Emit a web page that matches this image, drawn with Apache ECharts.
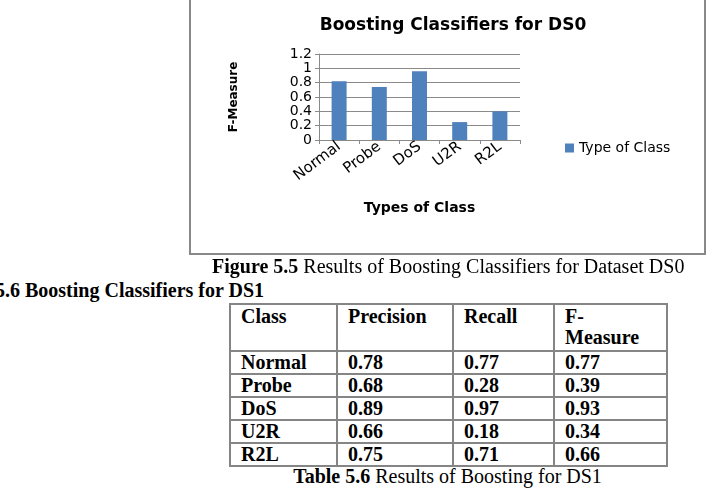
<!DOCTYPE html>
<html>
<head>
<meta charset="utf-8">
<script src="https://cdn.jsdelivr.net/npm/echarts@6/dist/echarts.min.js"></script>
<style>
    body {
        margin: 0;
        width: 715px;
        height: 488px;
        overflow: hidden;
        position: relative;
        background: #fff;
        font-family: "Liberation Serif", "Times New Roman", serif;
        color: #000;
    }
    #frame {
        position: absolute;
        left: 189px;
        top: -3px;
        width: 513px;
        height: 254px;
        border: 2px solid #888;
    }
    #myChart {
        position: absolute;
        left: 0;
        top: 0;
        width: 715px;
        height: 256px;
    }
    .cap {
        position: absolute;
        font-size: 20px;
        line-height: 23px;
        white-space: nowrap;
    }
    #tbl {
        position: absolute;
        left: 229px;
        top: 303px;
        border-collapse: collapse;
        table-layout: fixed;
        font-size: 20px;
        font-weight: bold;
    }
    #tbl td {
        border: 2px solid #858585;
        padding: 0 0 0 10px;
        line-height: 21px;
        height: 21px;
        vertical-align: middle;
        white-space: nowrap;
    }
    #tbl tr.head td {
        height: 44px;
        vertical-align: top;
        padding-top: 1px;
        white-space: normal;
    }
</style>
</head>
<body>
<div id="frame"></div>
<div id="myChart"></div>
<div class="cap" style="left:212px;top:255px;"><b>Figure 5.5</b> Results of Boosting Classifiers for Dataset DS0</div>
<div class="cap" style="left:-5px;top:279px;"><b>5.6 Boosting Classifiers for DS1</b></div>
<table id="tbl">
    <colgroup>
        <col style="width:107px">
        <col style="width:116px">
        <col style="width:101px">
        <col style="width:113px">
    </colgroup>
    <tbody id="tblBody"></tbody>
</table>
<div class="cap" style="left:229px;width:437px;top:465px;text-align:center;"><b>Table 5.6</b> Results of Boosting for DS1</div>

<script>
    // chart data (Figure 5.5)
    var categories = ['Normal', 'Probe', 'DoS', 'U2R', 'R2L'];
    var fMeasure = [0.82, 0.74, 0.96, 0.25, 0.40];
    var seriesName = 'Type of Class';

    // table data (Table 5.6)
    var tableHeader = ['Class', 'Precision', 'Recall', 'F-<br>Measure'];
    var tableClasses = ['Normal', 'Probe', 'DoS', 'U2R', 'R2L'];
    var precision = ['0.78', '0.68', '0.89', '0.66', '0.75'];
    var recall = ['0.77', '0.28', '0.97', '0.18', '0.71'];
    var fMeasureDs1 = ['0.77', '0.39', '0.93', '0.34', '0.66'];

    var html = '<tr class="head">';
    for (var h = 0; h < tableHeader.length; h++) {
        html += '<td>' + tableHeader[h] + '</td>';
    }
    html += '</tr>';
    for (var i = 0; i < tableClasses.length; i++) {
        html += '<tr><td>' + tableClasses[i] + '</td><td>' + precision[i] + '</td><td>' +
            recall[i] + '</td><td>' + fMeasureDs1[i] + '</td></tr>';
    }
    document.getElementById('tblBody').innerHTML = html;

    var gridColor = '#8a8a8a';
    var sans = '"DejaVu Sans", Verdana, sans-serif';

    var myChart = echarts.init(document.getElementById('myChart'));
    myChart.setOption({
        animation: false,
        title: {
            text: 'Boosting Classifiers for DS0',
            left: 448,
            top: 12,
            textAlign: 'center',
            textStyle: {
                fontFamily: sans,
                fontSize: 17,
                fontWeight: 'bold',
                color: '#000'
            }
        },
        legend: {
            left: 560,
            top: 136,
            itemWidth: 9,
            itemHeight: 9,
            icon: 'rect',
            data: [seriesName],
            textStyle: {
                fontFamily: sans,
                fontSize: 14,
                color: '#000'
            }
        },
        grid: {
            left: 319,
            top: 54,
            width: 201,
            height: 86
        },
        xAxis: {
            type: 'category',
            data: categories,
            name: 'Types of Class',
            nameLocation: 'middle',
            nameGap: 61,
            nameTextStyle: {
                fontFamily: sans,
                fontSize: 14,
                fontWeight: 'bold',
                color: '#000'
            },
            axisLine: {lineStyle: {color: gridColor}},
            axisTick: {show: true, length: 4, lineStyle: {color: gridColor}},
            axisLabel: {
                interval: 0,
                rotate: 37,
                margin: 5,
                fontFamily: sans,
                fontSize: 15,
                color: '#000'
            }
        },
        yAxis: {
            type: 'value',
            min: 0,
            max: 1.2,
            interval: 0.2,
            name: 'F-Measure',
            nameLocation: 'middle',
            nameRotate: 90,
            nameGap: 79,
            nameTextStyle: {
                fontFamily: sans,
                fontSize: 12,
                fontWeight: 'bold',
                color: '#000'
            },
            axisLine: {show: true, lineStyle: {color: gridColor}},
            axisTick: {show: true, length: 4, lineStyle: {color: gridColor}},
            splitLine: {lineStyle: {color: gridColor}},
            axisLabel: {
                margin: 7,
                fontFamily: sans,
                fontSize: 14,
                color: '#000'
            }
        },
        series: [{
            name: seriesName,
            type: 'bar',
            barWidth: 15,
            data: fMeasure,
            itemStyle: {color: '#4F81BD'}
        }]
    });
</script>
</body>
</html>
